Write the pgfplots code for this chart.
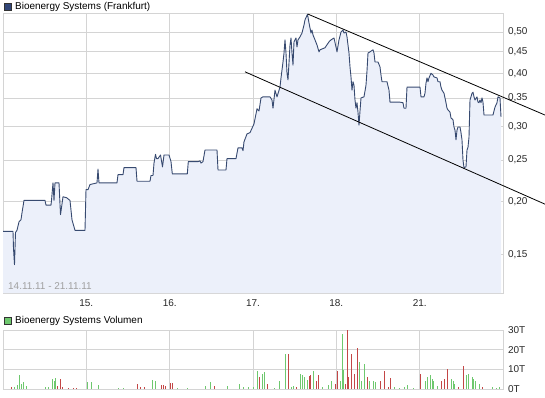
\documentclass[border=0pt]{standalone}
\usepackage{pgfplots}
\pgfplotsset{compat=1.18}
\usepackage{fontspec}
\setmainfont{Liberation Sans}
\definecolor{gridgray}{RGB}{212,212,212}
\definecolor{linecol}{RGB}{55,74,112}
\definecolor{fillcol}{RGB}{236,240,250}
\definecolor{labcol}{RGB}{40,40,40}
\definecolor{vgreen}{RGB}{110,200,110}
\definecolor{vred}{RGB}{195,70,70}
\definecolor{titlesq}{RGB}{50,70,120}
\definecolor{datecol}{RGB}{160,160,160}
\pgfplotstableread{
x y
0 0.170
10 0.170
10.5 0.155
11.5 0.142
12.5 0.169
14 0.171
16 0.179
18 0.181
19 0.188
21 0.201
42 0.201
43 0.196
48 0.196
48.5 0.201
50 0.221
51 0.201
52 0.221
56 0.221
57.5 0.186
60 0.205
63.5 0.204
67 0.201
69 0.181
72 0.171
82 0.171
83 0.213
85 0.213
87 0.219
94 0.221
95 0.238
96 0.221
114 0.221
115 0.231
120 0.231
121 0.240
133 0.240
134 0.223
147 0.223
148 0.230
150 0.230
151 0.246
152.5 0.258
153.5 0.252
155 0.252
157.5 0.257
159.5 0.241
161 0.257
166 0.257
168 0.248
169.3 0.232
184.3 0.232
185.3 0.248
195.3 0.248
197 0.249
198 0.246
200 0.248
202 0.264
214 0.264
215 0.237
223 0.237
224 0.252
233 0.252
235 0.267
239 0.267
240 0.263
241 0.276
244 0.288
247 0.290
251 0.304
254 0.330
256 0.326
258 0.350
260 0.352
267 0.352
269 0.346
270 0.331
272 0.365
274 0.352
277 0.371
278 0.390
280 0.425
281 0.446
282 0.479
283 0.446
284 0.400
285 0.386
286 0.423
287 0.466
288 0.484
289 0.446
290 0.418
291 0.474
293 0.484
294 0.461
295 0.479
297 0.487
299 0.497
301 0.519
302 0.534
304.5 0.550
306 0.525
308 0.497
309 0.505
310 0.492
312 0.479
314 0.466
316 0.449
317 0.454
319 0.456
322 0.459
326 0.474
328 0.479
331 0.484
333 0.461
334 0.449
336 0.479
338 0.500
340 0.505
341 0.497
343 0.500
344 0.487
346 0.446
347 0.414
348 0.392
349 0.365
350 0.382
351 0.375
352 0.346
353 0.331
354 0.341
355 0.324
356 0.302
357 0.326
358 0.350
361 0.352
363 0.375
364 0.405
365 0.446
367 0.449
370 0.454
371 0.446
372 0.425
375 0.425
377 0.414
378 0.396
379 0.382
384 0.382
386 0.365
387 0.342
397 0.342
400 0.341
401 0.331
403 0.331
404 0.371
417 0.371
418 0.352
421 0.352
422 0.359
423 0.379
424 0.390
425 0.382
426 0.390
428 0.400
430 0.396
431 0.392
434 0.390
435 0.382
437 0.382
438 0.371
439 0.365
441 0.359
443 0.341
444 0.331
445 0.328
447 0.324
448 0.314
450 0.311
451 0.299
452 0.294
453 0.279
454 0.294
455 0.299
457 0.299
458 0.290
459 0.279
460 0.250
461 0.240
463 0.241
464 0.264
465 0.268
466 0.283
467 0.346
468 0.352
469 0.359
470 0.361
471 0.352
472 0.346
474 0.352
475 0.342
476 0.341
477 0.346
478 0.341
479 0.350
480 0.342
481 0.319
490 0.319
492 0.333
494 0.341
495 0.352
497 0.350
498 0.316
}\price
\begin{document}
\begin{tikzpicture}
\path[use as bounding box] (0bp,0bp) rectangle (545bp,398bp);
\pgfplotsset{
  common/.style={
    scale only axis, anchor=south west, width=500bp, xmin=0, xmax=500,
    xtick={83.3,166.7,250,333.3,416.7},
    grid=major, major grid style={draw=gridgray, line width=0.8bp},
    axis line style={draw=gridgray, line width=0.8bp},
    major tick length=0pt,
    yticklabel pos=right,
    tick label style={font=\fontsize{10}{12}\selectfont, text=labcol},
    yticklabel style={xshift=1.5bp},
    xticklabel style={yshift=-3bp},
  }
}
\begin{axis}[common, at={(3bp,105bp)}, height=280bp, ymode=log,
  ymin=0.1218, ymax=0.554, clip=false,
  xticklabels={15.,16.,17.,18.,21.},
  ytick={0.15,0.2,0.25,0.3,0.35,0.4,0.45,0.5},
  yticklabels={{0,15},{0,20},{0,25},{0,30},{0,35},{0,40},{0,45},{0,50}}]
\addplot[fill=fillcol, draw=none] table[x=x,y=y] {\price} -- (axis cs:498,0.1218) -- (axis cs:0,0.1218) -- cycle;
\addplot[draw=linecol, line width=0.9bp, line join=round] table[x=x,y=y] {\price};
\addplot[black, line width=0.8bp] coordinates {(304.7,0.551)(542,0.319)};
\addplot[black, line width=0.8bp] coordinates {(242,0.403)(542,0.197)};
\end{axis}
\node[anchor=west, font=\fontsize{10}{12}\selectfont, text=datecol, inner sep=0pt] at (8bp,112bp) {14.11.11 - 21.11.11};
\begin{axis}[common, at={(3bp,9bp)}, height=59bp, ymin=0, ymax=30,
  xticklabels={}, ytick={0,10,20,30}, yticklabels={0T,10T,20T,30T}, clip=false]
\addplot[ycomb, draw=vgreen, line width=1bp] coordinates {
(11.2,1.0)(14.0,2.0)(16.4,7.0)(18.8,2.5)(20.9,3.4)(23.3,1.7)(42.4,0.8)(45.9,1.2)(49.4,5.0)(51.1,4.0)(52.8,5.5)
(84.0,3.4)(88.2,3.4)(95.1,2.2)(115.3,0.4)(120.5,0.4)(149.9,4.8)(152.4,4.3)(174.2,0.5)(184.6,0.5)(202.0,1.7)(207.2,3.8)
(224.5,1.7)(236.0,2.5)(240.1,1.2)(245.3,1.2)(250.6,0.8)(254.0,9.4)(259.2,7.7)(261.7,8.6)(271.4,0.4)(276.6,4.3)(282.5,18.0)
(288.0,1.2)(290.4,1.5)(297.4,7.4)(299.1,6.9)(301.9,6.0)(304.3,4.6)(310.6,9.4)(319.9,1.2)(325.1,2.0)(328.6,4.3)
(337.3,4.3)(339.0,28.0)(340.7,9.8)(356.4,13.7)(358.8,4.3)(361.6,12.9)(366.8,4.3)(370.2,4.3)(372.0,3.4)
(391,1.2)(396.3,0.4)(401.5,1.2)(404.9,2.0)(410.1,0.5)(422.3,4.3)(424.7,6.0)(427.5,7.2)(429.2,5.0)(430.9,4.3)(434.4,1.7)
(448.3,5.0)(450,4.3)(451.8,2.5)(463.9,6.9)(465.6,7.4)(469.1,6.0)(470.8,5.0)(472.6,4.3)(476.0,2.5)(489.9,0.8)(493.4,0.5)(496.8,1.2)};
\addplot[ycomb, draw=vred, line width=1bp] coordinates {
(8,1.2)(54.6,1.7)(57.0,5.0)(59.8,0.8)(65,0.5)(70.2,0.5)(73.6,0.5)(134.3,2.5)(137.8,1.2)(141.3,0.8)
(158.6,2.0)(160.4,2.0)(162.1,1.7)(167.3,3.0)(169.0,3.3)(211.4,1.7)(256.8,6.0)(264.4,2.5)(285.2,17.7)(293.9,1.2)
(306.1,6.5)(307.8,7.2)(313,4.3)(315.4,6.9)(332.1,2.5)(334.9,9.4)(342.5,2.5)(344.2,30.0)(345.9,6.0)(348.4,17.7)
(351.2,7.7)(354.6,20.6)(364.0,6.0)(377.2,4.3)(381.7,9.0)(385.8,1.2)(387.6,5.5)(417.8,7.7)(438.6,4.3)(441.3,5.0)
(444.8,10.3)(455.2,0.8)(460.4,11.5)(479.5,1.2)};
\end{axis}
\draw[draw=black!80, fill=titlesq, line width=0.6bp] (4bp,388bp) rectangle (11bp,395bp);
\node[anchor=west, font=\fontsize{10}{12}\selectfont, inner sep=0pt] at (15bp,391.5bp) {Bioenergy Systems (Frankfurt)};
\draw[draw=black!80, fill=vgreen, line width=0.6bp] (4bp,74bp) rectangle (11bp,81bp);
\node[anchor=west, font=\fontsize{10}{12}\selectfont, inner sep=0pt] at (15bp,77.5bp) {Bioenergy Systems Volumen};
\end{tikzpicture}
\end{document}
